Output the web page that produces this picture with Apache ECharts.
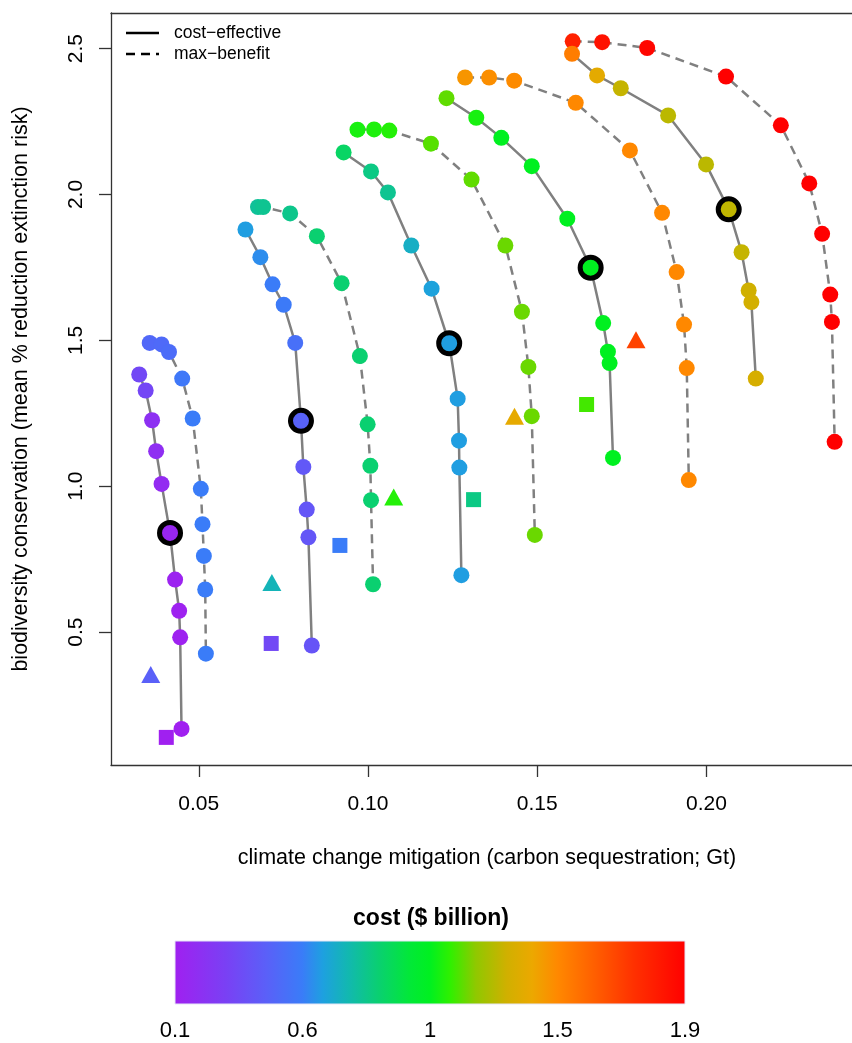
<!DOCTYPE html>
<html><head><meta charset="utf-8">
<script src="https://cdn.jsdelivr.net/npm/echarts@6/dist/echarts.min.js"></script>
<style>html,body{margin:0;padding:0;background:#fff}#c{width:852px;height:1043px}</style>
</head><body><div id="c"></div><script>
// ---------- data ----------
const xTicks = [0.05, 0.10, 0.15, 0.20];
const yTicks = [0.5, 1.0, 1.5, 2.0, 2.5];
const costTicks = [0.1, 0.6, 1, 1.5, 1.9];
const costTickLabels = ['0.1', '0.6', '1', '1.5', '1.9'];

const ce1X = [0.0324,0.0343,0.0362,0.0374,0.0390,0.0415,0.0430,0.0442,0.0445,0.0449];
const ce1Y = [1.383,1.328,1.226,1.120,1.008,0.840,0.680,0.573,0.482,0.168];
const ce1Cost = [0.34,0.33,0.20,0.19,0.17,0.14,0.12,0.11,0.11,0.10];
const mb1X = [0.0355,0.0390,0.0412,0.0451,0.0482,0.0506,0.0511,0.0515,0.0519,0.0521];
const mb1Y = [1.491,1.486,1.460,1.369,1.232,0.991,0.870,0.761,0.646,0.426];
const mb1Cost = [0.50,0.51,0.52,0.58,0.60,0.60,0.60,0.60,0.60,0.60];

const ce2X = [0.0638,0.0682,0.0718,0.0751,0.0785,0.0802,0.0809,0.0819,0.0824,0.0834];
const ce2Y = [1.880,1.785,1.692,1.622,1.491,1.224,1.066,0.920,0.825,0.454];
const ce2Cost = [0.66,0.63,0.60,0.59,0.54,0.47,0.42,0.41,0.41,0.40];
const mb2X = [0.0675,0.0690,0.0770,0.0849,0.0922,0.0976,0.0999,0.1007,0.1009,0.1015];
const mb2Y = [1.957,1.957,1.935,1.857,1.696,1.446,1.212,1.070,0.952,0.664];
const mb2Cost = [0.78,0.79,0.80,0.84,0.84,0.84,0.84,0.84,0.84,0.84];

const ce3X = [0.0928,0.1009,0.1059,0.1128,0.1188,0.1240,0.1265,0.1269,0.1270,0.1276];
const ce3Y = [2.144,2.079,2.007,1.825,1.677,1.490,1.300,1.156,1.064,0.695];
const ce3Cost = [0.86,0.81,0.79,0.71,0.67,0.66,0.66,0.66,0.66,0.66];
const mb3X = [0.0969,0.1018,0.1063,0.1186,0.1306,0.1406,0.1455,0.1474,0.1484,0.1493];
const mb3Y = [2.222,2.223,2.219,2.174,2.051,1.825,1.598,1.409,1.240,0.833];
const mb3Cost = [1.04,1.05,1.06,1.12,1.13,1.14,1.14,1.14,1.14,1.14];

const ce4X = [0.1232,0.1320,0.1394,0.1484,0.1589,0.1658,0.1695,0.1709,0.1714,0.1724];
const ce4Y = [2.330,2.263,2.194,2.097,1.917,1.749,1.559,1.461,1.422,1.097];
const ce4Cost = [1.13,1.04,1.00,1.00,1.00,1.00,1.00,1.00,1.00,1.00];
const mb4X = [0.1287,0.1358,0.1432,0.1614,0.1774,0.1869,0.1912,0.1934,0.1942,0.1948];
const mb4Y = [2.401,2.401,2.390,2.314,2.151,1.937,1.734,1.554,1.405,1.021];
const mb4Cost = [1.46,1.48,1.49,1.50,1.50,1.50,1.50,1.50,1.50,1.50];

const ce5X = [0.1603,0.1677,0.1747,0.1887,0.1999,0.2066,0.2104,0.2125,0.2133,0.2146];
const ce5Y = [2.482,2.408,2.364,2.271,2.103,1.949,1.802,1.671,1.631,1.369];
const ce5Cost = [1.53,1.37,1.28,1.26,1.26,1.27,1.28,1.30,1.31,1.32];
const mb5X = [0.1605,0.1692,0.1825,0.2058,0.2220,0.2304,0.2342,0.2366,0.2371,0.2379];
const mb5Y = [2.525,2.522,2.502,2.404,2.237,2.038,1.865,1.657,1.563,1.152];
const mb5Cost = [1.79,1.84,1.88,1.90,1.90,1.90,1.90,1.90,1.90,1.90];

const highlightIndex = [5, 5, 5, 5, 5];

const triX = [0.0358,0.0716,0.1076,0.1433,0.1792];
const triY = [0.355,0.670,0.963,1.240,1.502];
const triCost = [0.46,0.73,1.06,1.38,1.69];
const sqX = [0.0404,0.0714,0.0917,0.1312,0.1646];
const sqY = [0.139,0.461,0.797,0.954,1.280];
const sqCost = [0.10,0.34,0.60,0.81,1.10];

// ---------- colour scale ----------
const gradStops = [
  [0.00,'#a020f0'],[0.10,'#7a40f4'],[0.18,'#5a60f8'],[0.25,'#3a7cf8'],
  [0.29,'#1ea0e0'],[0.34,'#12b8b0'],[0.40,'#0ad070'],[0.46,'#02e838'],
  [0.50,'#00f020'],[0.54,'#30f000'],[0.59,'#90c800'],[0.65,'#d0b000'],
  [0.70,'#eca800'],[0.75,'#ff8800'],[0.82,'#ff6000'],[0.90,'#ff3000'],[1.00,'#ff0000']
];
function costToFrac(c){
  for (let i=0;i<costTicks.length-1;i++){
    if (c<=costTicks[i+1]) return (i + Math.max(0,(c-costTicks[i]))/(costTicks[i+1]-costTicks[i]))/4;
  }
  return 1;
}
function hex(h){return [parseInt(h.slice(1,3),16),parseInt(h.slice(3,5),16),parseInt(h.slice(5,7),16)];}
function fracToColor(f){
  for (let i=0;i<gradStops.length-1;i++){
    const [f0,c0]=gradStops[i],[f1,c1]=gradStops[i+1];
    if (f<=f1){
      const t=(f-f0)/(f1-f0), a=hex(c0), b=hex(c1);
      return 'rgb('+a.map((v,k)=>Math.round(v+(b[k]-v)*t)).join(',')+')';
    }
  }
  return gradStops[gradStops.length-1][1];
}
const costColor = c => fracToColor(costToFrac(c));

// ---------- build series ----------
const FONT = '"Liberation Sans", Arial, Helvetica, sans-serif';
const ceSets = [[ce1X,ce1Y,ce1Cost],[ce2X,ce2Y,ce2Cost],[ce3X,ce3Y,ce3Cost],[ce4X,ce4Y,ce4Cost],[ce5X,ce5Y,ce5Cost]];
const mbSets = [[mb1X,mb1Y,mb1Cost],[mb2X,mb2Y,mb2Cost],[mb3X,mb3Y,mb3Cost],[mb4X,mb4Y,mb4Cost],[mb5X,mb5Y,mb5Cost]];
const zip = (xs,ys) => xs.map((x,i)=>[x,ys[i]]);
const pts = (xs,ys,cs) => xs.map((x,i)=>({value:[x,ys[i]], itemStyle:{color:costColor(cs[i]), opacity:1}}));

const series = [];
const lineStyleBase = {color:'#808080', width:2.5, opacity:1};
ceSets.forEach(([xs,ys])=>series.push({type:'line', data:zip(xs,ys), symbol:'none', silent:true, z:1, lineStyle:{...lineStyleBase, type:'solid'}}));
mbSets.forEach(([xs,ys])=>series.push({type:'line', data:zip(xs,ys), symbol:'none', silent:true, z:1, lineStyle:{...lineStyleBase, type:[9,6]}}));
mbSets.forEach(([xs,ys,cs])=>series.push({type:'scatter', data:pts(xs,ys,cs), symbolSize:16, z:2, itemStyle:{opacity:1}}));
ceSets.forEach(([xs,ys,cs])=>series.push({type:'scatter', data:pts(xs,ys,cs), symbolSize:16, z:2, itemStyle:{opacity:1}}));
ceSets.forEach(([xs,ys,cs],k)=>{
  const i = highlightIndex[k];
  series.push({type:'scatter', z:3, symbolSize:21, itemStyle:{opacity:1},
    data:[{value:[xs[i],ys[i]], itemStyle:{color:costColor(cs[i]), borderColor:'#000', borderWidth:5, opacity:1}}]});
});
series.push({type:'scatter', symbol:'triangle', symbolSize:[19,17], z:2, itemStyle:{opacity:1}, data:pts(triX,triY,triCost)});
series.push({type:'scatter', symbol:'rect', symbolSize:15, z:2, itemStyle:{opacity:1}, data:pts(sqX,sqY,sqCost)});
// colour bar
series.push({type:'custom', xAxisIndex:1, yAxisIndex:1, data:[[0,costTicks.length-1]], silent:true,
  renderItem:(params, api)=>{
    const p0 = api.coord([api.value(0),1]);
    const p1 = api.coord([api.value(1),0]);
    return {type:'rect', shape:{x:p0[0], y:p0[1], width:p1[0]-p0[0], height:p1[1]-p0[1]},
      style:{fill:new echarts.graphic.LinearGradient(0,0,1,0, gradStops.map(([o,c])=>({offset:o,color:c}))), stroke:'#e6e6f6', lineWidth:1}};
  }});

const xMin = 0.02406, xMax = 0.24303, yMin = 0.0444, yMax = 2.622;
const axisLineStyle = {color:'#333', width:1.3};
const chart = echarts.init(document.getElementById('c'), null, {renderer:'canvas'});
chart.setOption({
  animation:false,
  backgroundColor:'#fff',
  textStyle:{fontFamily:FONT},
  grid:[
    {left:111, top:13, right:-2, bottom:278, show:false},
    {left:175, top:941, width:510, height:63}
  ],
  xAxis:[
    {type:'value', gridIndex:0, min:xMin, max:xMax, position:'bottom',
     axisLine:{show:true, onZero:false, lineStyle:axisLineStyle},
     axisTick:{show:true, length:12, customValues:xTicks, lineStyle:axisLineStyle},
     axisLabel:{customValues:xTicks, formatter:v=>v.toFixed(2), fontSize:21, color:'#000', margin:29, fontFamily:FONT},
     splitLine:{show:false}},
    {type:'value', gridIndex:1, min:0, max:costTicks.length-1, interval:1,
     axisLine:{show:false}, axisTick:{show:false}, splitLine:{show:false},
     axisLabel:{formatter:v=>costTickLabels[v], fontSize:22, color:'#000', margin:16, fontFamily:FONT}},
    {type:'value', gridIndex:0, min:xMin, max:xMax, position:'top',
     axisLine:{show:true, onZero:false, lineStyle:axisLineStyle},
     axisTick:{show:false}, axisLabel:{show:false}, splitLine:{show:false}}
  ],
  yAxis:[
    {type:'value', gridIndex:0, min:yMin, max:yMax,
     axisLine:{show:true, onZero:false, lineStyle:axisLineStyle},
     axisTick:{show:true, length:12, customValues:yTicks, lineStyle:axisLineStyle},
     axisLabel:{customValues:yTicks, formatter:v=>v.toFixed(1), rotate:90, fontSize:21, color:'#000', margin:24, fontFamily:FONT},
     splitLine:{show:false},
     name:'biodiversity conservation (mean % reduction extinction risk)', nameLocation:'middle', nameGap:79,
     nameTextStyle:{fontSize:21.5, color:'#000', fontFamily:FONT}},
    {type:'value', gridIndex:1, min:0, max:1, show:false}
  ],
  graphic:[
    {type:'line', shape:{x1:126, y1:33, x2:159, y2:33}, style:{stroke:'#000', lineWidth:2.5}},
    {type:'line', shape:{x1:126, y1:54, x2:159, y2:54}, style:{stroke:'#000', lineWidth:2.5, lineDash:[9,6]}},
    {type:'text', left:174, top:24, style:{text:'cost\u2212effective', font:'17.5px '+FONT, fill:'#000'}},
    {type:'text', left:174, top:45, style:{text:'max\u2212benefit', font:'17.5px '+FONT, fill:'#000'}},
    {type:'text', x:487, y:858, style:{text:'climate change mitigation (carbon sequestration; Gt)', font:'21.5px '+FONT, fill:'#000', align:'center', verticalAlign:'middle'}},
    {type:'text', x:431, y:919, style:{text:'cost ($ billion)', font:'bold 23px '+FONT, fill:'#000', align:'center', verticalAlign:'middle'}}
  ],
  series
});
</script></body></html>
